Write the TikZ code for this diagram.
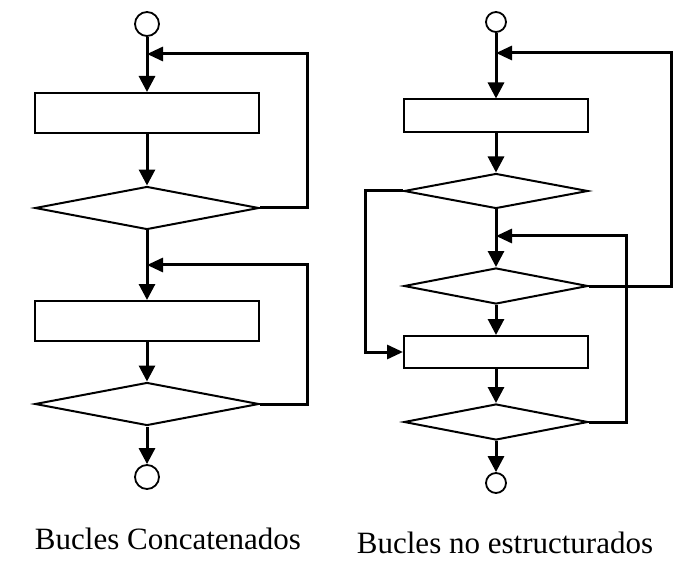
\documentclass[tikz,border=0pt]{standalone}
\usepackage{fontspec}
\setmainfont{Liberation Serif}
\usetikzlibrary{positioning,shapes.geometric,arrows.meta}

\tikzset{
  term/.style={circle, draw, line width=1.8pt, inner sep=0pt},
  proc/.style={rectangle, draw, line width=2pt, inner sep=0pt},
  cond/.style={diamond, draw, line width=2pt, inner sep=0pt, aspect=5},
  flow/.style={line width=3pt, -{Triangle[length=16pt,width=16pt]}},
  back/.style={line width=3pt, -{Triangle[length=16pt,width=14pt]}},
  caption/.style={anchor=base, font=\fontsize{31}{34}\selectfont},
}

\begin{document}
\begin{tikzpicture}[x=1pt, y=-1pt, on grid]
  \useasboundingbox (0,0) rectangle (691,564);

  % concatenated loops
  \node[term, minimum size=24pt] (s1) at (147,24) {};
  \coordinate[below=30pt of s1] (j1);
  \node[proc, minimum width=224pt, minimum height=40pt, below=89pt of s1] (r1) {};
  \node[cond, minimum width=224pt, minimum height=43pt, below=95pt of r1] (d1) {};
  \coordinate[below=57pt of d1] (j2);
  \node[proc, minimum width=224pt, minimum height=40pt, below=113pt of d1] (r2) {};
  \node[cond, minimum width=224pt, minimum height=43pt, below=83pt of r2] (d2) {};
  \node[term, minimum size=24pt, below=73pt of d2] (e1) {};

  \draw[flow] (s1) -- (r1);
  \draw[flow] (r1) -- (d1);
  \draw[flow] (d1) -- (r2);
  \draw[flow] (r2) -- (d2);
  \draw[flow] (d2) -- (e1);
  \draw[back] (d1.east) -| (307,54) -- (j1);
  \draw[back] (d2.east) -| (307,265) -- (j2);

  \node[caption] (c1) at (168,549) {Bucles Concatenados};

  % unstructured loops
  \node[term, minimum size=20pt] (s2) at (496,22) {};
  \coordinate[below=31pt of s2] (k1);
  \node[proc, minimum width=184pt, minimum height=33pt, below=94pt of s2] (r3) {};
  \node[cond, minimum width=184pt, minimum height=35pt, below=75pt of r3] (d3) {};
  \coordinate[below=45pt of d3] (k2);
  \node[cond, minimum width=184pt, minimum height=36pt, below=95pt of d3] (d4) {};
  \node[proc, minimum width=184pt, minimum height=32pt, below=66pt of d4] (r4) {};
  \node[cond, minimum width=184pt, minimum height=36pt, below=70pt of r4] (d5) {};
  \node[term, minimum size=20pt, below=61pt of d5] (e2) {};

  \draw[flow] (s2) -- (r3);
  \draw[flow] (r3) -- (d3);
  \draw[flow] (d3) -- (d4);
  \draw[flow] (d4) -- (r4);
  \draw[flow] (r4) -- (d5);
  \draw[flow] (d5) -- (e2);
  \draw[back] (d4.east) -| (671,53) -- (k1);
  \draw[back] (d5.east) -| (626,236) -- (k2);
  \draw[back] (d3.west) -| (365,352) -- (r4.west);

  \node[caption] (c2) at (505,553) {Bucles no estructurados};
\end{tikzpicture}
\end{document}
